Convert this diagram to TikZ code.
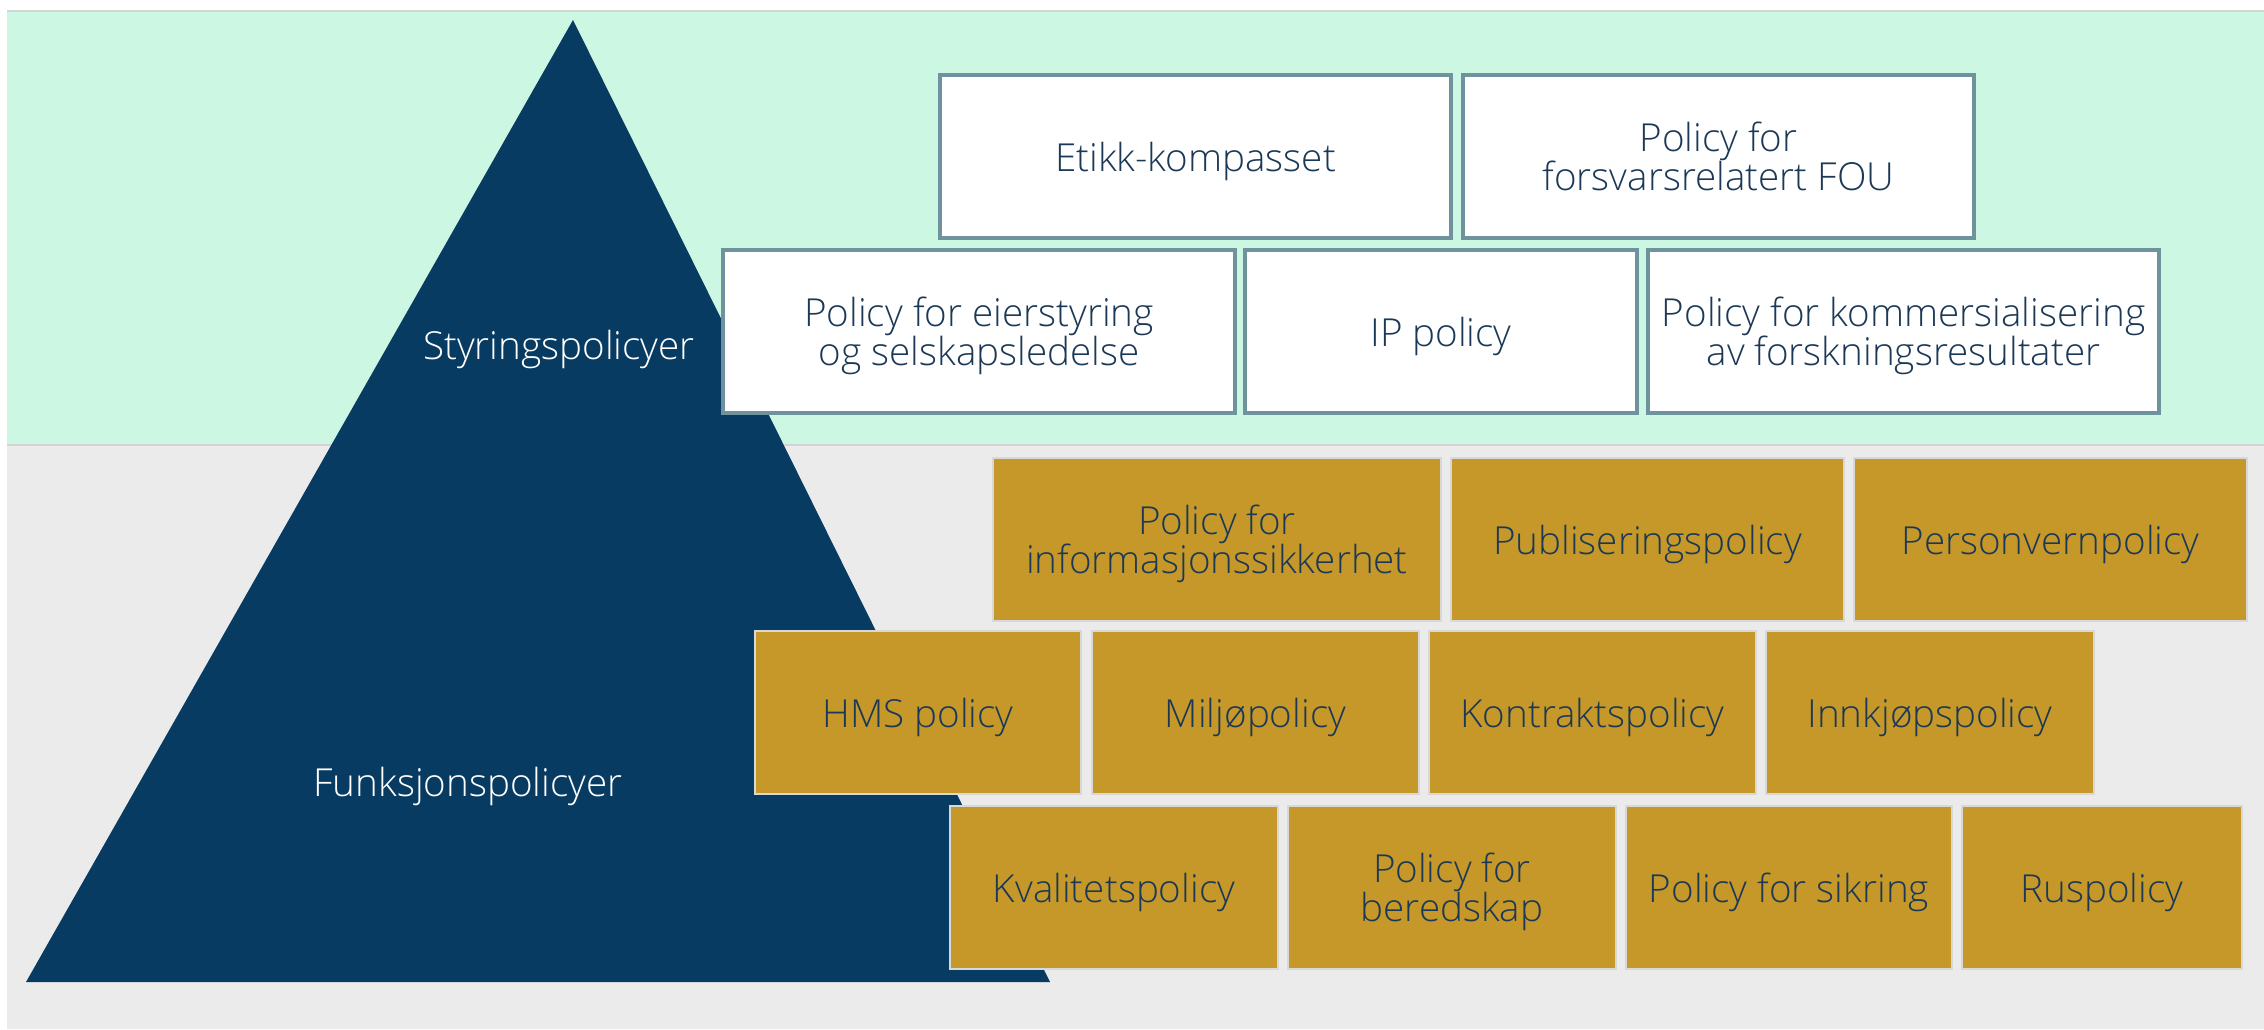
\documentclass[tikz,border=0pt]{standalone}
\usepackage{fontspec}
\setmainfont{Open Sans}[UprightFont={* Light}]
\definecolor{bandgreen}{HTML}{CCF7E2}
\definecolor{bandgrey}{HTML}{EBEBEB}
\definecolor{bandline}{HTML}{D4D4D4}
\definecolor{navy}{HTML}{073B62}
\definecolor{gold}{HTML}{C6982A}
\definecolor{goldline}{HTML}{D8D8D8}
\definecolor{boxline}{HTML}{6F939C}
\definecolor{txt}{HTML}{1B3956}
\newcommand{\boxfont}{\fontsize{19.3pt}{21pt}\selectfont}
\begin{document}
\begin{tikzpicture}[x=0.5pt,y=-0.5pt,
  wbox/.style={draw=boxline, line width=1.8pt, fill=white, minimum height=81.5pt, inner sep=0pt},
  gbox/.style={draw=goldline, line width=0.6pt, fill=gold, minimum height=81.5pt, inner sep=0pt},
  ln/.style={anchor=base, font=\boxfont, text=txt, inner sep=0pt},
  tlabel/.style={anchor=base, text=white, font=\boxfont, inner sep=0pt}]
\useasboundingbox (0,0) rectangle (2264,1029);
\fill[white] (0,0) rectangle (2264,1029);
% bands
\fill[bandgreen] (7,11) rectangle (2264,445);
\fill[bandgrey] (7,445) rectangle (2264,1029);
\draw[bandline, line width=0.8pt] (7,11) -- (2264,11);
\draw[bandline, line width=1.2pt] (7,445) -- (2264,445);
% pyramid
\fill[navy] (573,20) -- (1050,982) -- (26,982) -- cycle;
\node[tlabel] (sty) at (559,359) {Styringspolicyer};
\node[tlabel] (funk) at (468,796) {Funksjonspolicyer};
% governance policies (white boxes)
\node[wbox, minimum width=255.5pt] (etikk) at (1195.5,156.5) {};
\node[wbox, minimum width=255.5pt] (fou) at (1718.5,156.5) {};
\node[wbox, minimum width=256pt] (eier) at (979,331.5) {};
\node[wbox, minimum width=196pt] (ip) at (1441,331.5) {};
\node[wbox, minimum width=255.5pt] (komm) at (1903.5,331.5) {};
\node[ln] (etikk-t) at (1195.5,171.5) {Etikk-kompasset};
\node[ln] (fou-t1) at (1718.5,151.5) {Policy for};
\node[ln] (fou-t2) at (1718.5,190.5) {forsvarsrelatert FOU};
\node[ln] (eier-t1) at (979,326.5) {Policy for eierstyring};
\node[ln] (eier-t2) at (979,365.5) {og selskapsledelse};
\node[ln] (ip-t) at (1441,346.5) {IP policy};
\node[ln] (komm-t1) at (1903.5,326.5) {Policy for kommersialisering};
\node[ln] (komm-t2) at (1903.5,365.5) {av forskningsresultater};
% functional policies (gold boxes)
\node[gbox, minimum width=224pt] (info) at (1217,539.5) {};
\node[gbox, minimum width=196.5pt] (publ) at (1647.5,539.5) {};
\node[gbox, minimum width=196.5pt] (pers) at (2050.5,539.5) {};
\node[gbox, minimum width=163pt] (hms) at (918,712.5) {};
\node[gbox, minimum width=163.5pt] (milj) at (1255.5,712.5) {};
\node[gbox, minimum width=163.5pt] (kontr) at (1592.5,712.5) {};
\node[gbox, minimum width=164pt] (innk) at (1930,712.5) {};
\node[gbox, minimum width=164pt] (kval) at (1114,887.5) {};
\node[gbox, minimum width=164pt] (bered) at (1452,887.5) {};
\node[gbox, minimum width=163pt] (sikr) at (1789,887.5) {};
\node[gbox, minimum width=140pt] (rus) at (2102,887.5) {};
\node[ln] (info-t1) at (1217,534.5) {Policy for};
\node[ln] (info-t2) at (1217,573.5) {informasjonssikkerhet};
\node[ln] (publ-t) at (1647.5,554.5) {Publiseringspolicy};
\node[ln] (pers-t) at (2050.5,554.5) {Personvernpolicy};
\node[ln] (hms-t) at (918,727.5) {HMS policy};
\node[ln] (milj-t) at (1255.5,727.5) {Miljøpolicy};
\node[ln] (kontr-t) at (1592.5,727.5) {Kontraktspolicy};
\node[ln] (innk-t) at (1930,727.5) {Innkjøpspolicy};
\node[ln] (kval-t) at (1114,902.5) {Kvalitetspolicy};
\node[ln] (bered-t1) at (1452,882.5) {Policy for};
\node[ln] (bered-t2) at (1452,921.5) {beredskap};
\node[ln] (sikr-t) at (1789,902.5) {Policy for sikring};
\node[ln] (rus-t) at (2102,902.5) {Ruspolicy};
\end{tikzpicture}
\end{document}
